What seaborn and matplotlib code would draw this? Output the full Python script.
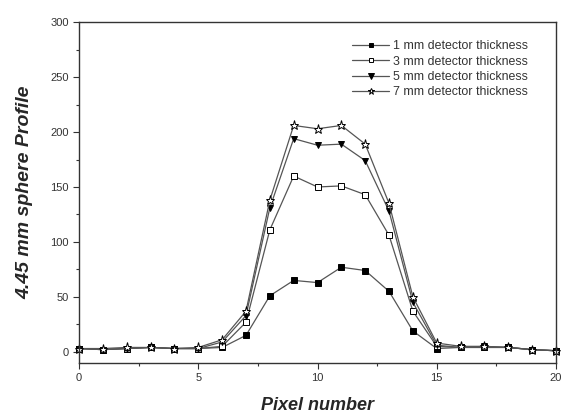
import matplotlib
matplotlib.use("Agg")
import matplotlib.pyplot as plt
import seaborn as sns
import pandas as pd
from matplotlib.ticker import MultipleLocator

pixels = list(range(21))
t1 = [3, 2, 3, 4, 3, 3, 4, 15, 51, 65, 63, 77, 74, 55, 19, 3, 4, 4, 4, 2, 1]
t3 = [3, 2, 3, 4, 3, 3, 5, 27, 111, 160, 150, 151, 143, 106, 37, 5, 4, 4, 4, 2, 1]
t5 = [3, 2, 3, 4, 3, 3, 9, 33, 131, 194, 188, 189, 174, 128, 45, 6, 4, 5, 4, 2, 1]
t7 = [3, 3, 4, 4, 3, 4, 11, 37, 138, 206, 203, 206, 189, 135, 50, 8, 5, 5, 4, 2, 1]
labels = ["1 mm detector thickness", "3 mm detector thickness",
          "5 mm detector thickness", "7 mm detector thickness"]

rows = []
for lab, vals in zip(labels, [t1, t3, t5, t7]):
    for p, v in zip(pixels, vals):
        rows.append({"pixel": p, "value": v, "series": lab})
df = pd.DataFrame(rows)

sns.set_style("ticks")
plt.rcParams['font.family'] = ['Liberation Sans', 'DejaVu Sans']

fig = plt.figure(figsize=(5.65, 4.18), dpi=100)
ax = fig.add_axes([0.140, 0.132, 0.844, 0.815])

styles = {
    labels[0]: dict(marker='s', mfc='black', ms=4),
    labels[1]: dict(marker='s', mfc='white', ms=4),
    labels[2]: dict(marker='v', mfc='black', ms=5),
    labels[3]: dict(marker='*', mfc='white', ms=6.5),
}
for lab in labels:
    sub = df[df.series == lab]
    st = styles[lab]
    sns.lineplot(data=sub, x="pixel", y="value", ax=ax, color='#555555', lw=0.9,
                 marker=st['marker'], markerfacecolor=st['mfc'], markeredgecolor='black',
                 markeredgewidth=0.7, markersize=st['ms'], label=lab, clip_on=False)

ax.set_xlim(0, 20)
ax.set_ylim(-10, 300)
ax.xaxis.set_major_locator(MultipleLocator(5))
ax.xaxis.set_minor_locator(MultipleLocator(2.5))
ax.yaxis.set_major_locator(MultipleLocator(50))
ax.yaxis.set_minor_locator(MultipleLocator(25))
ax.tick_params(which='major', direction='out', length=4, width=0.8, labelsize=8, colors='#333333')
ax.tick_params(which='minor', direction='out', length=2.5, width=0.8, colors='#333333')
for s in ax.spines.values():
    s.set_visible(True)
    s.set_linewidth(1.0)
    s.set_color('#333333')

ax.set_xlabel("Pixel number", fontsize=13, fontweight='bold', fontstyle='italic', labelpad=10)
ax.set_ylabel("4.45 mm sphere Profile", fontsize=14, fontweight='bold', fontstyle='italic', labelpad=12)

leg = ax.legend(loc='upper right', bbox_to_anchor=(0.952, 0.962), frameon=False,
                prop={'size': 8.9}, handlelength=3.0, labelspacing=0.28,
                borderaxespad=0.0, handletextpad=0.3, markerscale=0.75)
for t in leg.get_texts():
    t.set_color('#333333')

fig.savefig("out.png", dpi=100)
